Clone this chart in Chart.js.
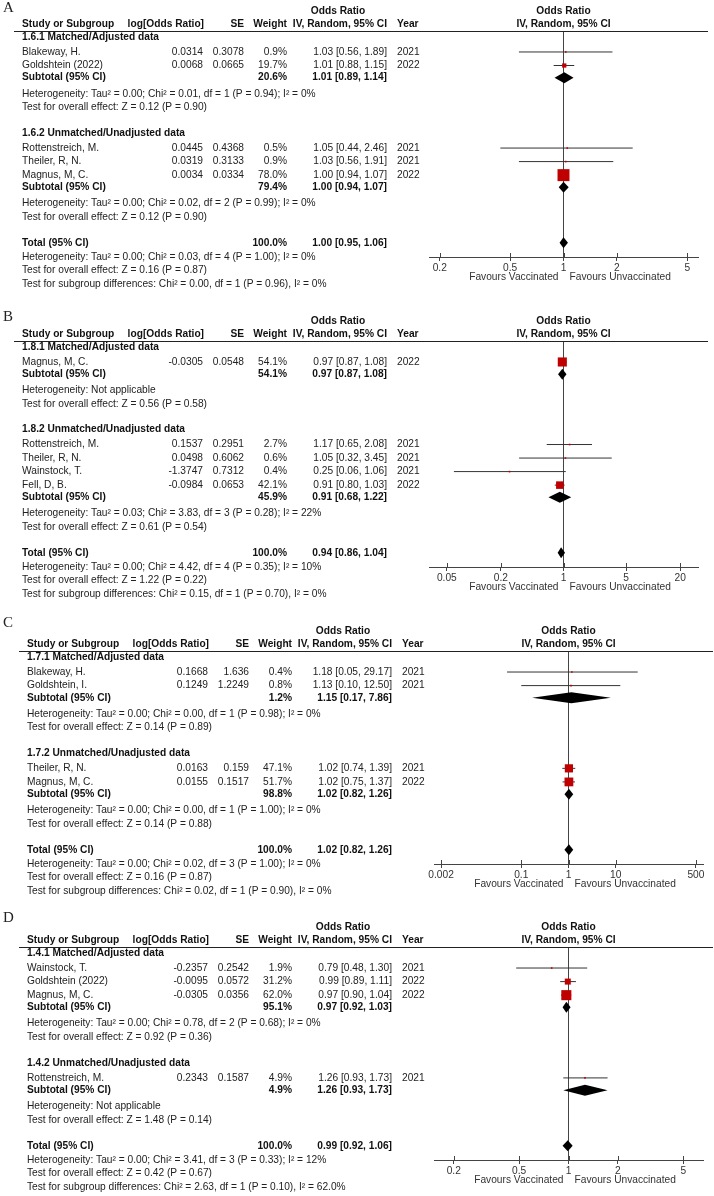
<!DOCTYPE html>
<html>
<head>
<meta charset="utf-8">
<script src="https://cdn.jsdelivr.net/npm/chart.js@4.4.1/dist/chart.umd.min.js"></script>
<style>
html, body { margin: 0; padding: 0; background: #fff; }
#wrap { position: relative; width: 714px; height: 1196px; overflow: hidden; }
#wrap canvas { position: absolute; left: 0; }
</style>
</head>
<body>
<div id="wrap"></div>
<script>
// ---- A: matched / unmatched, outcome 1.6
const studyA = ["Blakeway, H.", "Goldshtein (2022)", "Rottenstreich, M.", "Theiler, R, N.", "Magnus, M, C."]
const groupA = [0, 0, 1, 1, 1]
const logOrA = [0.0314, 0.0068, 0.0445, 0.0319, 0.0034]
const seA = [0.3078, 0.0665, 0.4368, 0.3133, 0.0334]
const weightA = [0.9, 19.7, 0.5, 0.9, 78.0]
const orA = [1.03, 1.01, 1.05, 1.03, 1.00]
const loA = [0.56, 0.88, 0.44, 0.56, 0.94]
const hiA = [1.89, 1.15, 2.46, 1.91, 1.07]
const yearA = [2021, 2022, 2021, 2021, 2022]
const subLabelA = ["1.6.1 Matched/Adjusted data", "1.6.2 Unmatched/Unadjusted data"]
const subWeightA = [20.6, 79.4]
const subOrA = [1.01, 1.00]
const subLoA = [0.89, 0.94]
const subHiA = [1.14, 1.07]
const subHetA = ["Tau² = 0.00; Chi² = 0.01, df = 1 (P = 0.94); I² = 0%", "Tau² = 0.00; Chi² = 0.02, df = 2 (P = 0.99); I² = 0%"]
const subZA = ["Z = 0.12 (P = 0.90)", "Z = 0.12 (P = 0.90)"]
const totalA = [1.00, 0.95, 1.06]
const totalHetA = "Tau² = 0.00; Chi² = 0.03, df = 4 (P = 1.00); I² = 0%"
const totalZA = "Z = 0.16 (P = 0.87)"
const diffA = "Chi² = 0.00, df = 1 (P = 0.96), I² = 0%"
const ticksA = [0.2, 0.5, 1, 2, 5]

// ---- B: outcome 1.8
const studyB = ["Magnus, M, C.", "Rottenstreich, M.", "Theiler, R, N.", "Wainstock, T.", "Fell, D, B."]
const groupB = [0, 1, 1, 1, 1]
const logOrB = [-0.0305, 0.1537, 0.0498, -1.3747, -0.0984]
const seB = [0.0548, 0.2951, 0.6062, 0.7312, 0.0653]
const weightB = [54.1, 2.7, 0.6, 0.4, 42.1]
const orB = [0.97, 1.17, 1.05, 0.25, 0.91]
const loB = [0.87, 0.65, 0.32, 0.06, 0.80]
const hiB = [1.08, 2.08, 3.45, 1.06, 1.03]
const yearB = [2022, 2021, 2021, 2021, 2022]
const subLabelB = ["1.8.1 Matched/Adjusted data", "1.8.2 Unmatched/Unadjusted data"]
const subWeightB = [54.1, 45.9]
const subOrB = [0.97, 0.91]
const subLoB = [0.87, 0.68]
const subHiB = [1.08, 1.22]
const subHetB = ["Not applicable", "Tau² = 0.03; Chi² = 3.83, df = 3 (P = 0.28); I² = 22%"]
const subZB = ["Z = 0.56 (P = 0.58)", "Z = 0.61 (P = 0.54)"]
const totalB = [0.94, 0.86, 1.04]
const totalHetB = "Tau² = 0.00; Chi² = 4.42, df = 4 (P = 0.35); I² = 10%"
const totalZB = "Z = 1.22 (P = 0.22)"
const diffB = "Chi² = 0.15, df = 1 (P = 0.70), I² = 0%"
const ticksB = [0.05, 0.2, 1, 5, 20]

// ---- C: outcome 1.7
const studyC = ["Blakeway, H.", "Goldshtein, I.", "Theiler, R, N.", "Magnus, M, C."]
const groupC = [0, 0, 1, 1]
const logOrC = [0.1668, 0.1249, 0.0163, 0.0155]
const seC = [1.636, 1.2249, 0.159, 0.1517]
const weightC = [0.4, 0.8, 47.1, 51.7]
const orC = [1.18, 1.13, 1.02, 1.02]
const loC = [0.05, 0.10, 0.74, 0.75]
const hiC = [29.17, 12.50, 1.39, 1.37]
const yearC = [2021, 2021, 2021, 2022]
const subLabelC = ["1.7.1 Matched/Adjusted data", "1.7.2 Unmatched/Unadjusted data"]
const subWeightC = [1.2, 98.8]
const subOrC = [1.15, 1.02]
const subLoC = [0.17, 0.82]
const subHiC = [7.86, 1.26]
const subHetC = ["Tau² = 0.00; Chi² = 0.00, df = 1 (P = 0.98); I² = 0%", "Tau² = 0.00; Chi² = 0.00, df = 1 (P = 1.00); I² = 0%"]
const subZC = ["Z = 0.14 (P = 0.89)", "Z = 0.14 (P = 0.88)"]
const totalC = [1.02, 0.82, 1.26]
const totalHetC = "Tau² = 0.00; Chi² = 0.02, df = 3 (P = 1.00); I² = 0%"
const totalZC = "Z = 0.16 (P = 0.87)"
const diffC = "Chi² = 0.02, df = 1 (P = 0.90), I² = 0%"
const ticksC = [0.002, 0.1, 1, 10, 500]

// ---- D: outcome 1.4
const studyD = ["Wainstock, T.", "Goldshtein (2022)", "Magnus, M, C.", "Rottenstreich, M."]
const groupD = [0, 0, 0, 1]
const logOrD = [-0.2357, -0.0095, -0.0305, 0.2343]
const seD = [0.2542, 0.0572, 0.0356, 0.1587]
const weightD = [1.9, 31.2, 62.0, 4.9]
const orD = [0.79, 0.99, 0.97, 1.26]
const loD = [0.48, 0.89, 0.90, 0.93]
const hiD = [1.30, 1.11, 1.04, 1.73]
const yearD = [2021, 2022, 2022, 2021]
const subLabelD = ["1.4.1 Matched/Adjusted data", "1.4.2 Unmatched/Unadjusted data"]
const subWeightD = [95.1, 4.9]
const subOrD = [0.97, 1.26]
const subLoD = [0.92, 0.93]
const subHiD = [1.03, 1.73]
const subHetD = ["Tau² = 0.00; Chi² = 0.78, df = 2 (P = 0.68); I² = 0%", "Not applicable"]
const subZD = ["Z = 0.92 (P = 0.36)", "Z = 1.48 (P = 0.14)"]
const totalD = [0.99, 0.92, 1.06]
const totalHetD = "Tau² = 0.00; Chi² = 3.41, df = 3 (P = 0.33); I² = 12%"
const totalZD = "Z = 0.42 (P = 0.67)"
const diffD = "Chi² = 2.63, df = 1 (P = 0.10), I² = 62.0%"
const ticksD = [0.2, 0.5, 1, 2, 5]

const FAMILY = '"Liberation Sans", Arial, sans-serif'
const REG = '10.2px ' + FAMILY
const BOLD = 'bold 10.2px ' + FAMILY
const TEXT = '#222'

const panels = [
	{letter: 'A', top: 0, height: 300, letterY: 8, rule: 31, axis: 257, left: 429, right: 698, dx: 0, range: 5.75,
		study: studyA, group: groupA, logOr: logOrA, se: seA, weight: weightA, or: orA, lo: loA, hi: hiA, year: yearA,
		subLabel: subLabelA, subWeight: subWeightA, subOr: subOrA, subLo: subLoA, subHi: subHiA, subHet: subHetA, subZ: subZA,
		total: totalA, totalHet: totalHetA, totalZ: totalZA, diff: diffA, ticks: ticksA},
	{letter: 'B', top: 300, height: 305, letterY: 317, rule: 341, axis: 567, left: 429, right: 698, dx: 0, range: 31.6,
		study: studyB, group: groupB, logOr: logOrB, se: seB, weight: weightB, or: orB, lo: loB, hi: hiB, year: yearB,
		subLabel: subLabelB, subWeight: subWeightB, subOr: subOrB, subLo: subLoB, subHi: subHiB, subHet: subHetB, subZ: subZB,
		total: totalB, totalHet: totalHetB, totalZ: totalZB, diff: diffB, ticks: ticksB},
	{letter: 'C', top: 605, height: 300, letterY: 623, rule: 651, axis: 864, left: 434, right: 703, dx: 5, range: 705,
		study: studyC, group: groupC, logOr: logOrC, se: seC, weight: weightC, or: orC, lo: loC, hi: hiC, year: yearC,
		subLabel: subLabelC, subWeight: subWeightC, subOr: subOrC, subLo: subLoC, subHi: subHiC, subHet: subHetC, subZ: subZC,
		total: totalC, totalHet: totalHetC, totalZ: totalZC, diff: diffC, ticks: ticksC},
	{letter: 'D', top: 905, height: 291, letterY: 918, rule: 947, axis: 1160, left: 434, right: 703, dx: 5, range: 6.6,
		study: studyD, group: groupD, logOr: logOrD, se: seD, weight: weightD, or: orD, lo: loD, hi: hiD, year: yearD,
		subLabel: subLabelD, subWeight: subWeightD, subOr: subOrD, subLo: subLoD, subHi: subHiD, subHet: subHetD, subZ: subZD,
		total: totalD, totalHet: totalHetD, totalZ: totalZD, diff: diffD, ticks: ticksD},
]

const fmtCI = (o, l, h) => o.toFixed(2) + ' [' + l.toFixed(2) + ', ' + h.toFixed(2) + ']'
const fmtW = (w) => w.toFixed(1) + '%'
// box area grows with weight, like RevMan
const squareSide = (w) => Math.max(1.6, 0.456 * Math.pow(w, 0.75))

// row positions in "line" units, RevMan style spacing
function layoutRows(p) {
	let rows = [], y = 0.45
	p.subLabel.forEach((lab, g) => {
		if (g > 0) y += 1.9
		rows.push({kind: 'group', y, text: lab})
		y += 1.1
		let first = true
		p.group.forEach((gg, i) => {
			if (gg !== g) return
			if (!first) y += 1
			first = false
			rows.push({kind: 'study', y, i})
		})
		y += 0.9
		rows.push({kind: 'subtotal', y, g})
		y += 1.2
		rows.push({kind: 'text', y, text: 'Heterogeneity: ' + p.subHet[g]})
		y += 1
		rows.push({kind: 'text', y, text: 'Test for overall effect: ' + p.subZ[g]})
	})
	y += 1.9
	rows.push({kind: 'total', y})
	y += 1.05
	const axisRow = y
	rows.push({kind: 'text', y, text: 'Heterogeneity: ' + p.totalHet})
	y += 1.0
	rows.push({kind: 'text', y, text: 'Test for overall effect: ' + p.totalZ})
	y += 1.03
	rows.push({kind: 'text', y, text: 'Test for subgroup differences: ' + p.diff})
	return {rows, axisRow}
}

function txt(ctx, s, x, y, align, font) {
	ctx.font = font || REG
	ctx.textAlign = align
	ctx.fillText(s, x, y)
}

function tablePlugin(p, rows) {
	return {
		id: 'table' + p.letter,
		afterDatasetsDraw(chart) {
			const ctx = chart.ctx, xs = chart.scales.x, ys = chart.scales.y
			ctx.save()
			ctx.fillStyle = '#000'
			const diamond = (yv, o, l, h) => {
				const a = xs.getPixelForValue(l), b = xs.getPixelForValue(o), c = xs.getPixelForValue(h)
				const yp = ys.getPixelForValue(yv)
				ctx.beginPath()
				ctx.moveTo(a, yp)
				ctx.lineTo(b, yp - 5.5)
				ctx.lineTo(c, yp)
				ctx.lineTo(b, yp + 5.5)
				ctx.closePath()
				ctx.fill()
			}
			rows.forEach(r => {
				if (r.kind === 'subtotal') diamond(r.y, p.subOr[r.g], p.subLo[r.g], p.subHi[r.g])
				if (r.kind === 'total') diamond(r.y, p.total[0], p.total[1], p.total[2])
			})
			ctx.restore()
		},
		afterDraw(chart) {
			const ctx = chart.ctx, xs = chart.scales.x, ys = chart.scales.y
			const area = chart.chartArea
			const dx = p.dx
			const x1 = xs.getPixelForValue(1)
			ctx.save()
			ctx.textBaseline = 'middle'
			ctx.fillStyle = TEXT
			// panel letter
			txt(ctx, p.letter, 3, p.letterY - p.top, 'left', '15px "Liberation Serif", "Times New Roman", serif')
			// header
			const h1 = area.top - 20, h2 = area.top - 7
			ctx.fillStyle = '#111'
			txt(ctx, 'Odds Ratio', 338 + dx, h1, 'center', BOLD)
			txt(ctx, 'Odds Ratio', x1, h1, 'center', BOLD)
			txt(ctx, 'Study or Subgroup', 22 + dx, h2, 'left', BOLD)
			txt(ctx, 'log[Odds Ratio]', 204 + dx, h2, 'right', BOLD)
			txt(ctx, 'SE', 244 + dx, h2, 'right', BOLD)
			txt(ctx, 'Weight', 287 + dx, h2, 'right', BOLD)
			txt(ctx, 'IV, Random, 95% CI', 387 + dx, h2, 'right', BOLD)
			txt(ctx, 'Year', 397 + dx, h2, 'left', BOLD)
			txt(ctx, 'IV, Random, 95% CI', x1, h2, 'center', BOLD)
			ctx.strokeStyle = '#222'
			ctx.lineWidth = 1.2
			ctx.beginPath()
			ctx.moveTo(14 + dx, Math.round(area.top) + 0.5)
			ctx.lineTo(708 + dx, Math.round(area.top) + 0.5)
			ctx.stroke()
			// table rows
			rows.forEach(r => {
				const y = ys.getPixelForValue(r.y)
				if (r.kind === 'group') {
					ctx.fillStyle = '#111'
					txt(ctx, r.text, 22 + dx, y, 'left', BOLD)
				} else if (r.kind === 'study') {
					const i = r.i
					ctx.fillStyle = TEXT
					txt(ctx, p.study[i], 22 + dx, y, 'left')
					txt(ctx, String(p.logOr[i]), 203 + dx, y, 'right')
					txt(ctx, String(p.se[i]), 244 + dx, y, 'right')
					txt(ctx, fmtW(p.weight[i]), 287 + dx, y, 'right')
					txt(ctx, fmtCI(p.or[i], p.lo[i], p.hi[i]), 387 + dx, y, 'right')
					txt(ctx, String(p.year[i]), 397 + dx, y, 'left')
				} else if (r.kind === 'subtotal') {
					ctx.fillStyle = '#111'
					txt(ctx, 'Subtotal (95% CI)', 22 + dx, y, 'left', BOLD)
					txt(ctx, fmtW(p.subWeight[r.g]), 287 + dx, y, 'right', BOLD)
					txt(ctx, fmtCI(p.subOr[r.g], p.subLo[r.g], p.subHi[r.g]), 387 + dx, y, 'right', BOLD)
				} else if (r.kind === 'total') {
					ctx.fillStyle = '#111'
					txt(ctx, 'Total (95% CI)', 22 + dx, y, 'left', BOLD)
					txt(ctx, fmtW(100), 287 + dx, y, 'right', BOLD)
					txt(ctx, fmtCI(p.total[0], p.total[1], p.total[2]), 387 + dx, y, 'right', BOLD)
				} else {
					ctx.fillStyle = TEXT
					txt(ctx, r.text, 22 + dx, y, 'left')
				}
			})
			// small tick marks above the axis line
			ctx.strokeStyle = '#444'
			ctx.lineWidth = 1
			xs.ticks.forEach(t => {
				const x = Math.round(xs.getPixelForValue(t.value)) + 0.5
				ctx.beginPath()
				ctx.moveTo(x, area.bottom - 4)
				ctx.lineTo(x, area.bottom)
				ctx.stroke()
			})
			ctx.fillStyle = '#333'
			txt(ctx, 'Favours Vaccinated', x1 - 5, area.bottom + 20, 'right')
			txt(ctx, 'Favours Unvaccinated', x1 + 6, area.bottom + 20, 'left')
			ctx.restore()
		}
	}
}

const wrap = document.getElementById('wrap')

panels.forEach(p => {
	const canvas = document.createElement('canvas')
	canvas.width = 714
	canvas.height = p.height
	canvas.style.top = p.top + 'px'
	wrap.appendChild(canvas)
	const {rows, axisRow} = layoutRows(p)
	const studyRows = rows.filter(r => r.kind === 'study')
	const datasets = []
	// studies' boxes on top
	datasets.push({
		data: studyRows.map(r => ({x: p.or[r.i], y: r.y})),
		pointStyle: 'rect',
		pointRadius: studyRows.map(r => squareSide(p.weight[r.i]) / Math.SQRT2),
		backgroundColor: '#c00000',
		borderWidth: 0,
		order: 1
	})
	studyRows.forEach(r => {
		datasets.push({
			data: [{x: p.lo[r.i], y: r.y}, {x: p.hi[r.i], y: r.y}],
			showLine: true,
			borderColor: '#333',
			borderWidth: 1,
			pointRadius: 0,
			order: 2
		})
	})
	// line of no effect
	datasets.push({
		data: [{x: 1, y: 0}, {x: 1, y: axisRow}],
		showLine: true,
		borderColor: '#444',
		borderWidth: 1,
		pointRadius: 0,
		order: 3
	})
	const top = p.rule - p.top
	const axisH = 30
	new Chart(canvas, {
		type: 'scatter',
		data: {datasets},
		options: {
			responsive: false,
			animation: false,
			events: [],
			layout: {
				padding: {left: p.left, right: 714 - p.right, top: top, bottom: p.height - (p.axis - p.top) - axisH}
			},
			plugins: {legend: {display: false}, tooltip: {enabled: false}},
			scales: {
				x: {
					type: 'logarithmic',
					min: 1 / p.range,
					max: p.range,
					afterBuildTicks: (s) => { s.ticks = p.ticks.map(v => ({value: v})) },
					afterFit: (s) => { s.height = axisH },
					ticks: {
						callback: (v) => String(v),
						autoSkip: false,
						maxRotation: 0,
						padding: 1,
						color: '#333',
						font: {family: FAMILY, size: 10.2}
					},
					grid: {display: true, drawOnChartArea: false, drawTicks: true, tickLength: 4, color: '#444'},
					border: {display: true, color: '#444', width: 1}
				},
				y: {
					type: 'linear',
					reverse: true,
					min: 0,
					max: axisRow,
					display: false
				}
			}
		},
		plugins: [tablePlugin(p, rows)]
	})
})
</script>
</body>
</html>
